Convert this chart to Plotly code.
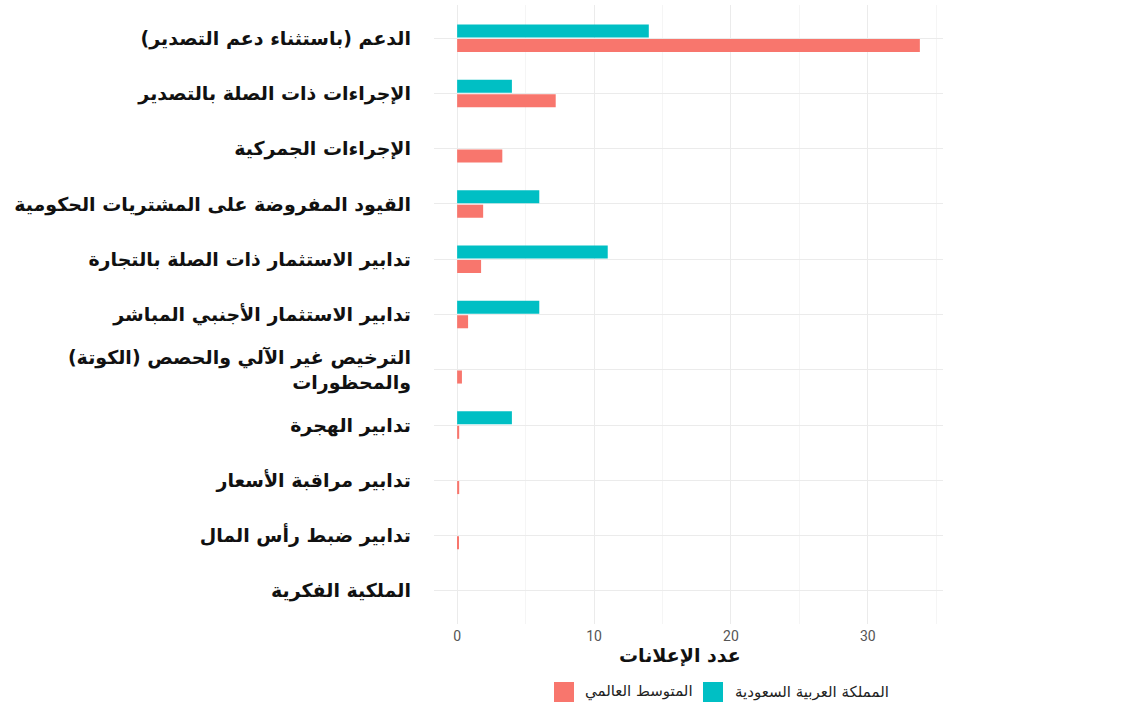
import plotly.graph_objects as go

categories = [
    "الدعم (باستثناء دعم التصدير)",
    "الإجراءات ذات الصلة بالتصدير",
    "الإجراءات الجمركية",
    "القيود المفروضة على المشتريات الحكومية",
    "تدابير الاستثمار ذات الصلة بالتجارة",
    "تدابير الاستثمار الأجنبي المباشر",
    "الترخيص غير الآلي والحصص (الكوتة)<br>والمحظورات",
    "تدابير الهجرة",
    "تدابير مراقبة الأسعار",
    "تدابير ضبط رأس المال",
    "الملكية الفكرية",
]
saudi_values = [14, 4, None, 6, 11, 6, None, 4, None, None, None]
global_values = [33.8, 7.2, 3.3, 1.9, 1.75, 0.8, 0.35, 0.15, 0.15, 0.08, None]

series_names = ["المملكة العربية السعودية", "المتوسط العالمي"]
series_colors = ["#00BFC4", "#F8766D"]
x_title = "عدد الإعلانات"
x_ticks = [0, 10, 20, 30]

fig = go.Figure()
fig.add_trace(go.Bar(y=categories, x=saudi_values, orientation="h", name=series_names[0],
                     showlegend=False, marker=dict(color=series_colors[0], line=dict(width=0))))
fig.add_trace(go.Bar(y=categories, x=global_values, orientation="h", name=series_names[1],
                     showlegend=False, marker=dict(color=series_colors[1], line=dict(width=0))))

# plot area in pixels: x 434..943, y 5..624
L, R, T, B = 434, 943, 5, 624
W, H = R - L, B - T
def px(x):
    return (x - L) / W
def py(y):
    return (B - y) / H

shapes = []
annotations = []
# custom legend (RTL style as in the reference)
legend_items = [  # (series index, swatch left px, text left px)
    (1, 554, 583),
    (0, 703, 733),
]
for idx, sx, tx in legend_items:
    shapes.append(dict(type="rect", xref="paper", yref="paper",
                       x0=px(sx), x1=px(sx + 20), y0=py(702), y1=py(682),
                       fillcolor=series_colors[idx], line=dict(width=0)))
    annotations.append(dict(xref="paper", yref="paper", x=px(tx), y=py(692),
                            xanchor="left", yanchor="middle", showarrow=False,
                            text=series_names[idx],
                            font=dict(family="DejaVu Sans", size=15, color="#222222")))
annotations.append(dict(xref="paper", yref="paper", x=px(680), y=py(655),
                        xanchor="center", yanchor="middle", showarrow=False,
                        text="<b>" + x_title + "</b>",
                        font=dict(family="DejaVu Sans", size=19, color="#111111")))

xmax = max(v for v in global_values + saudi_values if v is not None)
n = len(categories)
fig.update_layout(
    width=1126, height=709,
    paper_bgcolor="white", plot_bgcolor="white",
    margin=dict(l=L, r=1126 - R, t=T, b=709 - B),
    barmode="group", bargap=0.475, bargroupgap=0.1,
    font=dict(family="DejaVu Sans", color="#222222"),
    showlegend=False,
    shapes=shapes, annotations=annotations,
    xaxis=dict(range=[-0.05 * xmax, 1.05 * xmax], tickvals=x_ticks,
               showgrid=True, gridcolor="#ebebeb", gridwidth=1,
               minor=dict(dtick=5, showgrid=True, gridcolor="#f5f5f5", gridwidth=1),
               zeroline=False, showline=False, ticks="", ticklabelstandoff=2,
               tickfont=dict(family="Roboto", size=14, color="#555555")),
    yaxis=dict(range=[n - 1 + 0.6, -0.6], showgrid=True, gridcolor="#ebebeb", gridwidth=1,
               zeroline=False, showline=False, ticks="", ticklabelstandoff=22,
               tickfont=dict(family="DejaVu Sans", size=19, color="#111111", weight="bold")),
)
fig.write_html("out.html")
